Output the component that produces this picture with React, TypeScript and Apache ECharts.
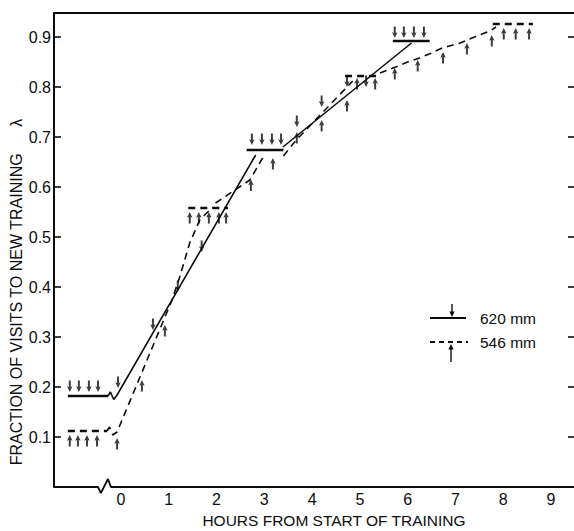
import React, { useEffect, useRef } from "react";
import * as echarts from "echarts";

// Tick labels
const hourTicks = [0, 1, 2, 3, 4, 5, 6, 7, 8, 9];

// 620 mm training: individual visits (down arrows, tip = value)
const visits620: number[][] = [
  [-1.07, 0.19], [-0.88, 0.19], [-0.67, 0.19], [-0.48, 0.19],
  [-0.06, 0.198], [0.67, 0.314], [1.19, 0.39], [1.69, 0.47],
  [2.74, 0.684], [2.95, 0.684], [3.16, 0.684], [3.35, 0.684],
  [3.68, 0.72], [4.2, 0.76], [4.73, 0.8], [5.13, 0.8],
  [5.73, 0.898], [5.92, 0.898], [6.13, 0.898], [6.34, 0.898],
];

// 546 mm training: individual visits (up arrows, tip = value)
const visits546: number[][] = [
  [-1.07, 0.104], [-0.9, 0.104], [-0.71, 0.104], [-0.5, 0.104],
  [-0.08, 0.098], [0.44, 0.214], [0.92, 0.324],
  [1.44, 0.55], [1.63, 0.55], [1.84, 0.55], [2.05, 0.55], [2.2, 0.55],
  [2.72, 0.615], [3.18, 0.658],
  [3.68, 0.71], [4.2, 0.734], [4.73, 0.774],
  [4.94, 0.818], [5.32, 0.818],
  [5.73, 0.838], [6.21, 0.854], [6.74, 0.87], [7.24, 0.888], [7.76, 0.904],
  [8.01, 0.918], [8.26, 0.918], [8.54, 0.918],
];

// 620 mm trend lines
const trend620A: number[][] = [
  [-0.27, 0.182], [-0.22, 0.19], [-0.15, 0.175], [-0.08, 0.184], [2.82, 0.664],
];
const trend620B: number[][] = [[3.39, 0.68], [6.08, 0.888]];

// 620 mm plateaus
const plateaus620: number[][][] = [
  [[-1.11, 0.182], [-0.27, 0.182]],
  [[2.63, 0.674], [3.4, 0.674]],
  [[5.69, 0.892], [6.46, 0.892]],
];

// 546 mm trend lines
const trend546A: number[][] = [
  [-0.29, 0.112], [-0.24, 0.12], [-0.17, 0.104], [-0.08, 0.11],
  [1.07, 0.374], [1.23, 0.42], [1.44, 0.488], [1.65, 0.534], [1.92, 0.56],
];
const trend546B: number[][] = [[1.98, 0.568], [2.7, 0.614], [3.0, 0.664]];
const trend546C: number[][] = [[3.4, 0.662], [3.65, 0.692], [4.85, 0.812]];
const trend546D: number[][] = [
  [5.42, 0.828], [5.75, 0.84], [6.0, 0.85], [6.25, 0.858], [6.5, 0.868],
  [6.72, 0.878], [7.1, 0.888], [7.4, 0.9], [7.72, 0.912], [7.85, 0.92],
];

// 546 mm plateaus
const plateaus546: number[][][] = [
  [[-1.11, 0.112], [-0.29, 0.112]],
  [[1.41, 0.558], [2.24, 0.558]],
  [[4.69, 0.822], [5.44, 0.822]],
  [[7.78, 0.926], [8.62, 0.926]],
];

// Bottom axis with the break marker before the start of training
const bottomAxis: number[][] = [
  [-1.4, 0], [-0.48, 0], [-0.42, -0.012], [-0.27, 0.016], [-0.21, 0], [9.48, 0],
];

const INK = "#0d0d0d";
const FONT = "'Liberation Sans', Arial, Helvetica, sans-serif";
const DOWN_ARROW = "path://M5 22L0 11L3.2 12.5L3.2 0L6.8 0L6.8 12.5L10 11Z";
const UP_ARROW = "path://M5 0L0 11L3.2 9.5L3.2 22L6.8 22L6.8 9.5L10 11Z";

function lineSeries(data: number[][], width: number, dashed: boolean, clip = true) {
  return {
    type: "line",
    data,
    symbol: "none",
    silent: true,
    clip,
    lineStyle: { color: INK, width, type: dashed ? [7, 5] : "solid", cap: "butt" },
    z: 3,
  };
}

export default function App() {
  const ref = useRef<HTMLDivElement>(null);

  useEffect(() => {
    if (!ref.current) return;
    const chart = echarts.init(ref.current, undefined, { renderer: "svg" });

    const series: any[] = [
      lineSeries(bottomAxis, 1.8, false, false),
      lineSeries(trend620A, 1.6, false),
      lineSeries(trend620B, 1.6, false),
      ...plateaus620.map((p) => lineSeries(p, 2.6, false)),
      lineSeries(trend546A, 1.6, true),
      lineSeries(trend546B, 1.6, true),
      lineSeries(trend546C, 1.6, true),
      lineSeries(trend546D, 1.6, true),
      ...plateaus546.map((p) => lineSeries(p, 2.4, true)),
      {
        type: "scatter",
        name: "620 mm",
        data: visits620,
        symbol: DOWN_ARROW,
        symbolSize: [5.5, 11.5],
        symbolOffset: [0, -5.75],
        itemStyle: { color: INK },
        z: 4,
      },
      {
        type: "scatter",
        name: "546 mm",
        data: visits546,
        symbol: UP_ARROW,
        symbolSize: [5.5, 11.5],
        symbolOffset: [0, 5.75],
        itemStyle: { color: INK },
        z: 4,
      },
    ];

    const arrowDown = (x: number, tipY: number) => [
      { type: "line", shape: { x1: x, y1: tipY - 13, x2: x, y2: tipY - 4 }, style: { stroke: INK, lineWidth: 1.4 } },
      { type: "polygon", shape: { points: [[x - 2.6, tipY - 5.5], [x + 2.6, tipY - 5.5], [x, tipY]] }, style: { fill: INK } },
    ];
    const arrowUp = (x: number, tipY: number) => [
      { type: "line", shape: { x1: x, y1: tipY + 4, x2: x, y2: tipY + 18 }, style: { stroke: INK, lineWidth: 1.4 } },
      { type: "polygon", shape: { points: [[x - 2.6, tipY + 5.5], [x + 2.6, tipY + 5.5], [x, tipY]] }, style: { fill: INK } },
    ];

    chart.setOption({
      animation: false,
      backgroundColor: "#ffffff",
      grid: { left: 54, right: 0, top: 13, bottom: 44, containLabel: false },
      xAxis: [
        {
          type: "value",
          min: -1.4,
          max: 9.48,
          axisLine: { show: false, onZero: false },
          axisTick: { show: false },
          splitLine: { show: false },
          axisLabel: {
            customValues: hourTicks,
            color: INK,
            fontFamily: FONT,
            fontSize: 16,
            margin: 4,
          },
        },
        {
          type: "value",
          position: "top",
          min: -1.4,
          max: 9.48,
          axisLine: { show: true, onZero: false, lineStyle: { color: INK, width: 2 } },
          axisTick: { show: false },
          axisLabel: { show: false },
          splitLine: { show: false },
        },
      ],
      yAxis: [
        {
          type: "value",
          min: 0,
          max: 0.948,
          interval: 0.1,
          axisLine: { show: true, onZero: false, lineStyle: { color: INK, width: 2 } },
          axisTick: { show: true, inside: true, length: 7, lineStyle: { color: INK, width: 1.6 } },
          splitLine: { show: false },
          axisLabel: {
            color: INK,
            fontFamily: FONT,
            fontSize: 16,
            margin: 3,
            formatter: (v: number) => {
              const k = Math.round(v * 10);
              return k > 0 && k < 10 && Math.abs(v * 10 - k) < 1e-6 ? (k / 10).toFixed(1) : "";
            },
          },
        },
        {
          type: "value",
          position: "right",
          min: 0,
          max: 0.948,
          interval: 0.1,
          axisLine: { show: false, onZero: false },
          axisTick: { show: true, inside: true, length: 6, lineStyle: { color: INK, width: 1.6 } },
          axisLabel: { show: false },
          splitLine: { show: false },
        },
      ],
      series,
      graphic: [
        {
          type: "text",
          x: 334,
          y: 520,
          style: {
            text: "HOURS FROM START OF TRAINING",
            fill: INK,
            font: `15.5px ${FONT}`,
            align: "center",
            verticalAlign: "middle",
          },
        },
        {
          type: "text",
          x: 16,
          y: 292,
          rotation: Math.PI / 2,
          style: {
            text: "FRACTION OF VISITS TO NEW TRAINING      λ",
            fill: INK,
            font: `16px ${FONT}`,
            align: "center",
            verticalAlign: "middle",
          },
        },
        // legend
        { type: "line", shape: { x1: 430, y1: 318, x2: 466, y2: 318 }, style: { stroke: INK, lineWidth: 2 } },
        ...arrowDown(452, 317),
        {
          type: "text",
          x: 480,
          y: 318,
          style: { text: "620 mm", fill: INK, font: `15.5px ${FONT}`, align: "left", verticalAlign: "middle" },
        },
        {
          type: "line",
          shape: { x1: 430, y1: 342, x2: 468, y2: 342 },
          style: { stroke: INK, lineWidth: 2, lineDash: [5, 4] },
        },
        ...arrowUp(451, 344),
        {
          type: "text",
          x: 480,
          y: 342,
          style: { text: "546 mm", fill: INK, font: `15.5px ${FONT}`, align: "left", verticalAlign: "middle" },
        },
      ],
    });

    return () => chart.dispose();
  }, []);

  return (
    <div
      ref={ref}
      style={{ position: "absolute", left: 0, top: 0, width: 574, height: 531, background: "#fff" }}
    />
  );
}
